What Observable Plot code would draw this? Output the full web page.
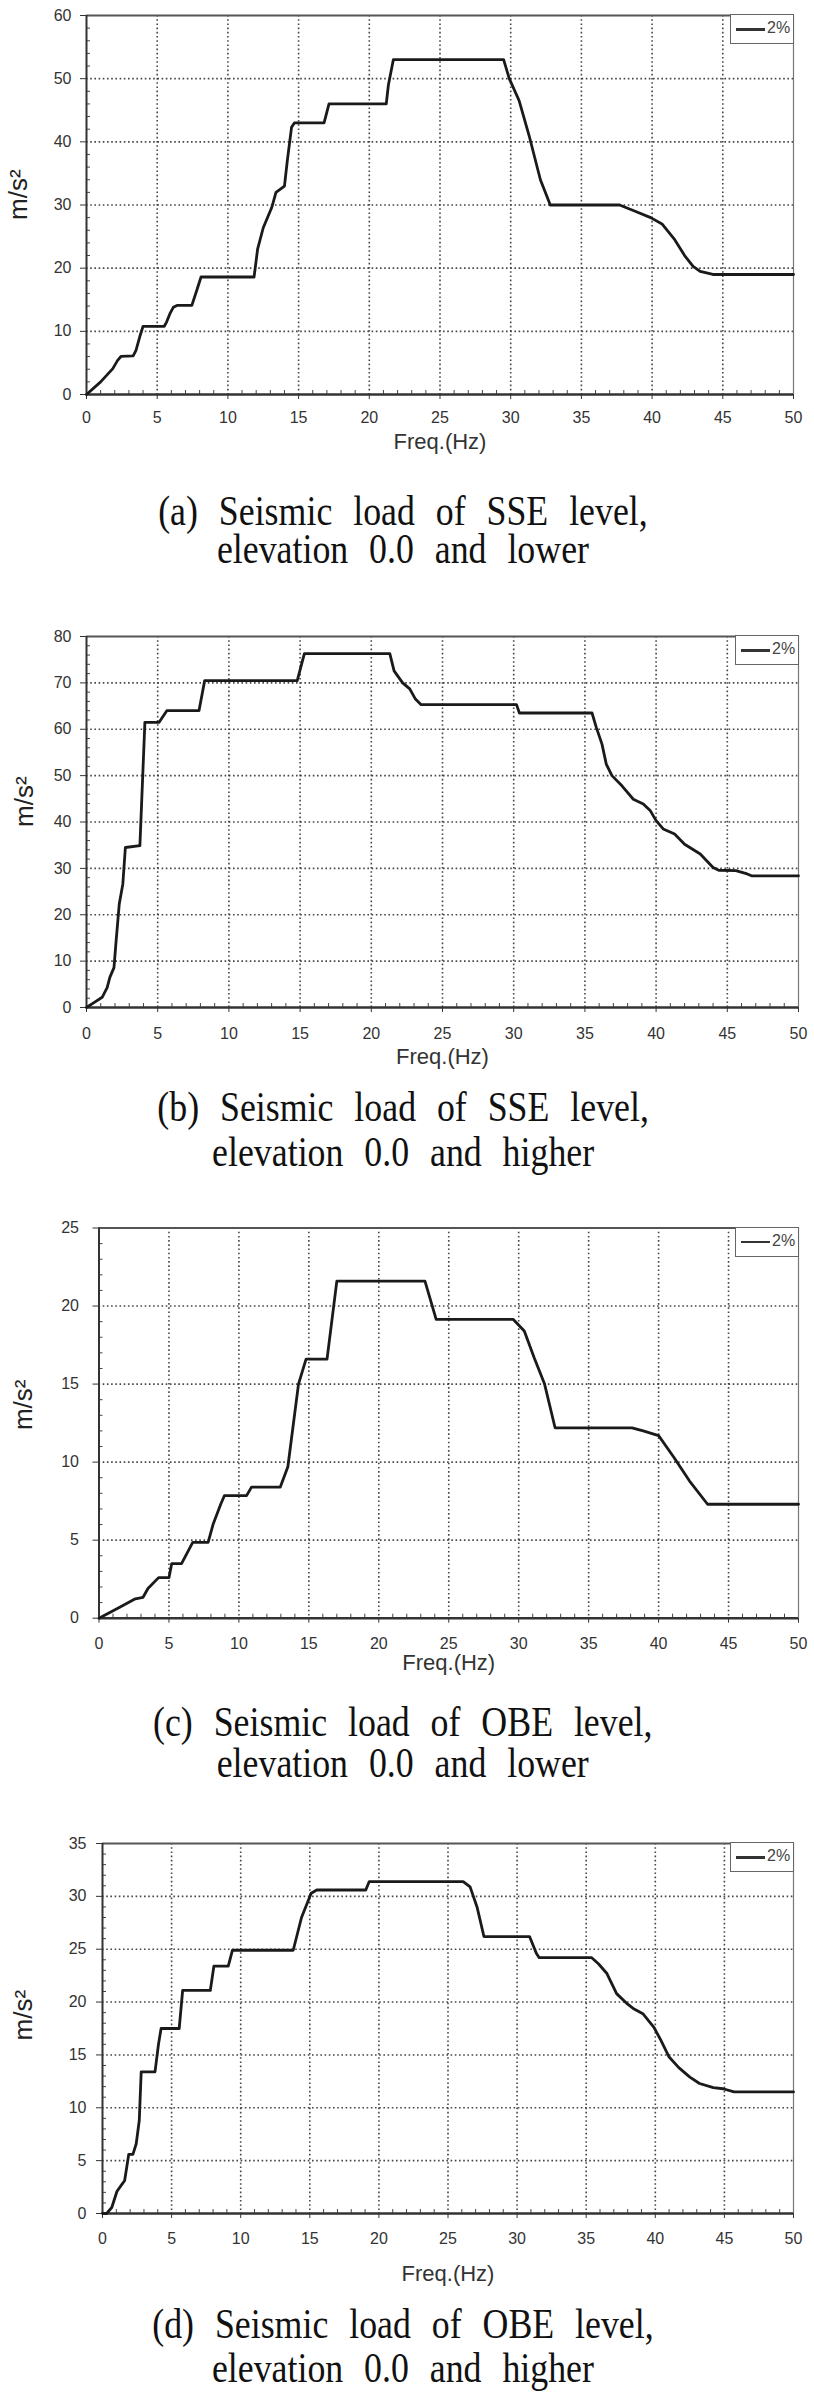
<!DOCTYPE html>
<html><head><meta charset="utf-8">
<script src="https://cdn.jsdelivr.net/npm/d3@7"></script>
<script src="https://cdn.jsdelivr.net/npm/@observablehq/plot@0.6"></script>
<style>
body{margin:0;background:#fff;}
#root{position:relative;width:814px;height:2395px;overflow:hidden;background:#fff;}
.panel{position:absolute;left:0;}
.cap{position:absolute;left:0;width:806px;text-align:center;font-family:"Liberation Serif","Times New Roman",serif;font-size:42px;color:#111;}
.cap span{display:inline-block;transform:scaleX(0.853);word-spacing:14px;white-space:pre;text-align:center;}
.legend{position:absolute;box-sizing:border-box;border:1.5px solid #666;background:#fff;font-family:"Liberation Sans",Arial,sans-serif;font-size:16px;color:#444;}
.legend .ln{position:absolute;left:5px;top:13px;width:29px;height:2.5px;background:#333;}
.legend .tx{position:absolute;left:36px;top:4px;}
</style></head>
<body><div id="root"></div>
<script>
// ---------- data ----------
const freqA = [0, 1.0, 1.86, 2.2, 2.45, 3.3, 3.5, 3.76, 4.0, 5.5, 5.67, 5.9, 6.14, 6.4, 7.45, 7.8, 8.1, 11.85, 12.1, 12.5, 13.1, 13.4, 14.0, 14.2, 14.5, 14.7, 16.8, 17.15, 21.2, 21.35, 21.7, 29.5, 29.9, 30.6, 31.3, 32.1, 32.8, 37.7, 38.8, 39.9, 40.7, 41.6, 42.3, 42.9, 43.4, 44.3, 50];
const accA  = [0, 2.0, 4.1, 5.4, 6.05, 6.1, 7.0, 9.1, 10.8, 10.8, 11.5, 12.8, 13.8, 14.1, 14.1, 16.5, 18.6, 18.6, 23, 26.4, 29.6, 32, 33, 37, 42.3, 43, 43, 46, 46, 49, 53, 53, 50, 46.5, 41, 34, 30, 30, 29, 28, 27, 24.5, 22, 20.3, 19.5, 19, 19];

const freqB = [0, 0.55, 1.1, 1.45, 1.64, 1.93, 2.07, 2.3, 2.55, 2.73, 3.75, 4.1, 5.1, 5.64, 7.9, 8.3, 14.8, 15.3, 21.3, 21.6, 22.2, 22.7, 23.1, 23.5, 30.2, 30.4, 35.5, 35.8, 36.2, 36.5, 36.9, 37.6, 38.4, 39.1, 39.6, 40, 40.5, 41.3, 42, 43.1, 44, 44.4, 45.6, 46.4, 46.7, 50];
const accB  = [0, 1.1, 2.2, 4.3, 6.5, 8.6, 14, 22.3, 26.6, 34.5, 34.9, 61.5, 61.5, 64, 64, 70.5, 70.5, 76.3, 76.3, 72.6, 70, 68.7, 66.5, 65.3, 65.3, 63.5, 63.5, 60.4, 56.8, 52.5, 50, 47.8, 44.9, 43.9, 42.4, 40.3, 38.5, 37.4, 35.2, 33.1, 30.2, 29.6, 29.5, 28.8, 28.4, 28.4];

const freqC = [0, 1.48, 2.6, 3.15, 3.5, 4.26, 5.0, 5.2, 5.9, 6.7, 7.8, 8.15, 8.7, 8.96, 10.55, 10.9, 12.96, 13.5, 14.26, 14.8, 16.3, 17.0, 23.3, 24.1, 29.6, 30.4, 31.1, 31.85, 32.6, 38.1, 38.9, 40, 41.1, 42.2, 43.5, 50];
const accC  = [0, 0.7, 1.24, 1.34, 1.9, 2.6, 2.6, 3.5, 3.5, 4.86, 4.86, 6.0, 7.3, 7.85, 7.85, 8.4, 8.4, 9.7, 15, 16.6, 16.6, 21.6, 21.6, 19.15, 19.15, 18.4, 16.7, 15, 12.2, 12.2, 12.0, 11.7, 10.3, 8.8, 7.3, 7.3];

const freqD = [0, 0.3, 0.67, 1.05, 1.43, 1.6, 1.9, 2.2, 2.44, 2.66, 2.8, 3.8, 4.05, 4.24, 5.55, 5.8, 7.8, 8.06, 9.1, 9.4, 13.8, 14.4, 15.1, 15.5, 19.05, 19.3, 26.1, 26.6, 27.1, 27.6, 30.9, 31.4, 31.6, 35.4, 35.9, 36.5, 37.2, 38.0, 38.4, 39.1, 39.9, 40.4, 41.0, 41.7, 42.5, 43.2, 44.2, 44.9, 45.7, 50];
const accD  = [0, 0, 0.57, 2.1, 2.8, 3.1, 5.6, 5.6, 6.6, 8.8, 13.4, 13.4, 16.0, 17.5, 17.5, 21.1, 21.1, 23.4, 23.4, 24.9, 24.9, 28.0, 30.3, 30.6, 30.6, 31.4, 31.4, 30.9, 29, 26.2, 26.2, 24.6, 24.2, 24.2, 23.6, 22.7, 20.8, 19.8, 19.4, 18.9, 17.6, 16.4, 14.8, 13.8, 12.9, 12.3, 11.9, 11.8, 11.5, 11.5];

const xTickValues = [0, 5, 10, 15, 20, 25, 30, 35, 40, 45, 50];
const yTicksA = [0, 10, 20, 30, 40, 50, 60];
const yTicksB = [0, 10, 20, 30, 40, 50, 60, 70, 80];
const yTicksC = [0, 5, 10, 15, 20, 25];
const yTicksD = [0, 5, 10, 15, 20, 25, 30, 35];
const seriesName = "2%";
const xLabel = "Freq.(Hz)";
const yLabel = "m/s²";
const captionsA = ["(a) Seismic load of SSE level,", "elevation 0.0 and lower"];
const captionsB = ["(b) Seismic load of SSE level,", "elevation 0.0 and higher"];
const captionsC = ["(c) Seismic load of OBE level,", "elevation 0.0 and lower"];
const captionsD = ["(d) Seismic load of OBE level,", "elevation 0.0 and higher"];

// ---------- drawing ----------
const root = document.getElementById("root");

function makePanel(cfg) {
  const data = cfg.freq.map((f, i) => ({f, a: cfg.acc[i]}));
  const yTicks = cfg.yTicks;
  const yMax = yTicks[yTicks.length - 1];
  const xMinor = d3.range(0, 51, 1).filter(v => v % 5 !== 0);
  const yMinor = d3.range(0, yMax, cfg.yMinor).filter(v => !yTicks.includes(v));
  const dotted = {stroke: "#333", strokeOpacity: 0.9, strokeDasharray: "1.6,2.6", strokeWidth: 1.6};
  const chart = Plot.plot({
    width: 814, height: cfg.height,
    marginTop: cfg.mt, marginBottom: cfg.mb, marginLeft: cfg.ml, marginRight: cfg.mr,
    style: {fontFamily: "Liberation Sans, Arial, sans-serif", fontSize: "16px", color: "#333", background: "#fff"},
    x: {domain: [0, 50]},
    y: {domain: [0, yMax]},
    marks: [
      Plot.gridX({ticks: xTickValues.filter(v => v > 0 && v < 50), ...dotted}),
      Plot.gridY({ticks: yTicks.filter(v => v > 0 && v < yMax), ...dotted}),
      Plot.axisX({ticks: xMinor, tickSize: -4, tickFormat: () => "", stroke: "#444", label: null}),
      Plot.axisY({ticks: yMinor, tickSize: -4, tickFormat: () => "", stroke: "#444", label: null}),
      Plot.ruleY([yMax], {stroke: "#555", strokeWidth: 2}),
      Plot.ruleX([50], {stroke: "#777", strokeWidth: 1.2}),
      Plot.axisX({ticks: xTickValues, tickSize: 5, tickPadding: cfg.xPad, fontSize: 16, label: null, stroke: "#333"}),
      Plot.axisY({ticks: yTicks, tickSize: 6, tickPadding: cfg.yPad, fontSize: 16, label: null, stroke: "#333"}),
      Plot.ruleX([0], {stroke: "#333", strokeWidth: 2}),
      Plot.ruleY([0], {stroke: "#333", strokeWidth: 2.5}),
      Plot.line(data, {x: "f", y: "a", stroke: "#1a1a1a", strokeWidth: 2.8}),
      Plot.text([xLabel], {frameAnchor: "bottom", dy: cfg.freqDy, fontSize: 22, fill: "#333", text: d => d}),
      Plot.text([yLabel], {frameAnchor: "left", dx: cfg.ylabDx, dy: cfg.ylabDy, rotate: -90, fontSize: 26, fill: "#222", text: d => d})
    ]
  });
  const wrap = document.createElement("div");
  wrap.className = "panel";
  wrap.style.top = cfg.top + "px";
  wrap.appendChild(chart);
  root.appendChild(wrap);

  // legend box in the top-right corner of the plot frame
  const lg = document.createElement("div");
  lg.className = "legend";
  const right = 814 - cfg.mr;
  lg.style.left = (right - 63) + "px";
  lg.style.top = (cfg.top + cfg.mt - 1) + "px";
  lg.style.width = "64px";
  lg.style.height = "30px";
  lg.innerHTML = '<div class="ln"></div><div class="tx"></div>';
  lg.querySelector(".tx").textContent = seriesName;
  root.appendChild(lg);

  // two-line caption as one text block
  const c = document.createElement("div");
  c.className = "cap";
  c.style.top = cfg.capTop + "px";
  c.style.lineHeight = cfg.capLH + "px";
  const s = document.createElement("span");
  s.textContent = cfg.captions.join("\n");
  c.appendChild(s);
  root.appendChild(c);
}

makePanel({freq: freqA, acc: accA, yTicks: yTicksA, yMinor: 2, top: 0, height: 480, mt: 15, mb: 86, ml: 86, mr: 21,
  xPad: 12, yPad: 9, freqDy: 54, ylabDx: -68, ylabDy: 15, captions: captionsA, capTop: 492, capLH: 38});
makePanel({freq: freqB, acc: accB, yTicks: yTicksB, yMinor: 2, top: 620, height: 470, mt: 16, mb: 83, ml: 86, mr: 16,
  xPad: 15, yPad: 9, freqDy: 56, ylabDx: -62, ylabDy: 5, captions: captionsB, capTop: 1085, capLH: 45});
makePanel({freq: freqC, acc: accC, yTicks: yTicksC, yMinor: 1, top: 1205, height: 480, mt: 22.5, mb: 67.3, ml: 98.5, mr: 16,
  xPad: 14, yPad: 14, freqDy: 52, ylabDx: -75, ylabDy: 7, captions: captionsC, capTop: 1702, capLH: 41});
makePanel({freq: freqD, acc: accD, yTicks: yTicksD, yMinor: 1, top: 1825, height: 480, mt: 18, mb: 92, ml: 102, mr: 21,
  xPad: 14, yPad: 10, freqDy: 67, ylabDx: -79, ylabDy: 12, captions: captionsD, capTop: 2302, capLH: 44});
</script>
</body></html>
